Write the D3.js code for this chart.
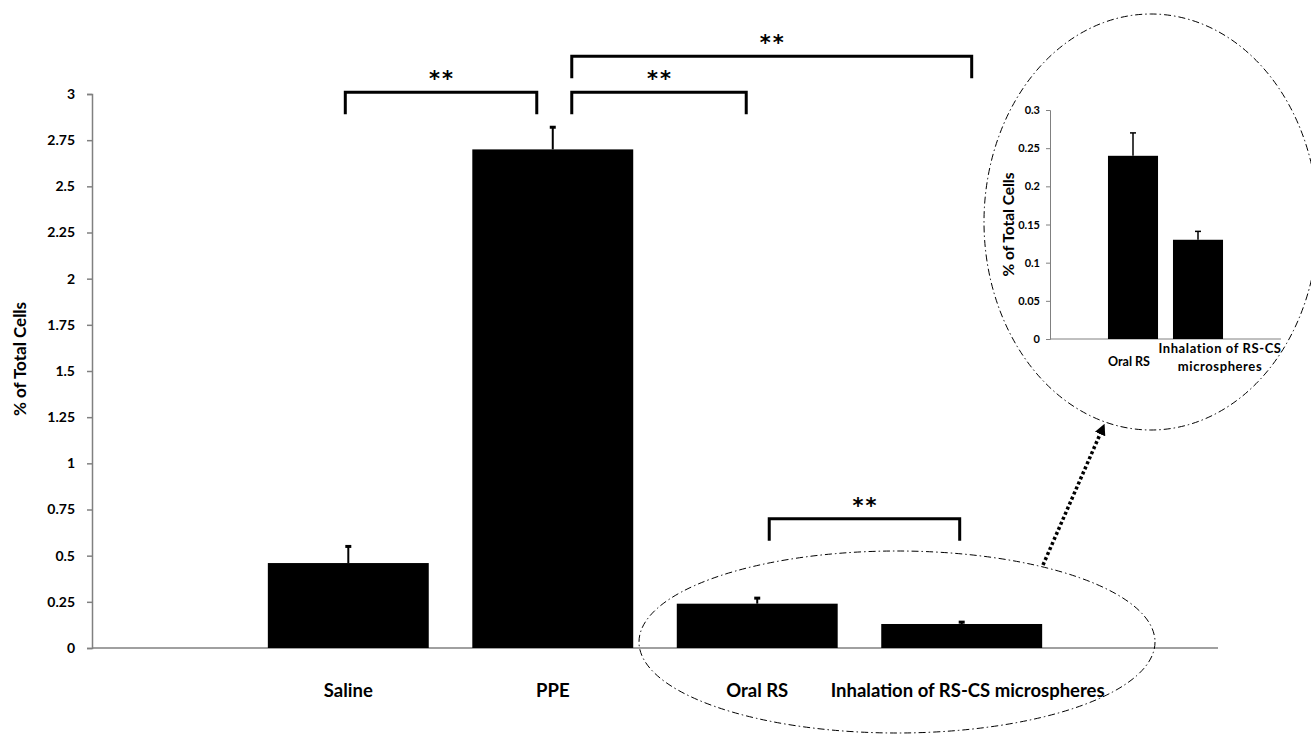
<!DOCTYPE html>
<html>
<head>
<meta charset="utf-8">
<script src="https://cdn.jsdelivr.net/npm/d3@7"></script>
<style>
  body { margin: 0; background: #fff; }
  text { font-family: Lato, "Open Sans", sans-serif; font-weight: bold; fill: #000; }
</style>
</head>
<body>
<svg id="chart" width="1311" height="735"></svg>
<script>
// ---- data ----
const categories = ["Saline", "PPE", "Oral RS", "Inhalation of RS-CS microspheres"];
const means = [0.46, 2.70, 0.24, 0.13];
const errors = [0.09, 0.12, 0.03, 0.01];
const yTicks = [0, 0.25, 0.5, 0.75, 1, 1.25, 1.5, 1.75, 2, 2.25, 2.5, 2.75, 3];

// inset (zoom of the two treatment groups)
const insetCategories = ["Oral RS", "Inhalation of RS-CS microspheres"];
const insetMeans = [0.24, 0.13];
const insetErrors = [0.03, 0.011];
const insetTicks = [0, 0.05, 0.1, 0.15, 0.2, 0.25, 0.3];

// significance brackets: from category, to category, level (in y units)
const brackets = [
    {from: "Saline", to: "PPE", level: 3.01, dx1: -3, dx2: -16},
    {from: "PPE", to: "Oral RS", level: 3.01, dx1: 19, dx2: -11},
    {from: "PPE", to: "Inhalation of RS-CS microspheres", level: 3.205, dx1: 19, dx2: 10},
    {from: "Oral RS", to: "Inhalation of RS-CS microspheres", level: 0.70, dx1: 12, dx2: -2}
];

const svg = d3.select("#chart");
const fmt = d => String(+d.toFixed(2));

// ---- main chart ----
const x = d3.scaleBand()
    .domain(categories)
    .range([92, 1218])
    .paddingInner(0.213)
    .paddingOuter(0.86);

const y = d3.scaleLinear()
    .domain([0, 3])
    .range([648, 94]);

// y axis
const yAxis = svg.append("g")
    .attr("transform", "translate(92,0)")
    .call(d3.axisLeft(y).tickValues(yTicks).tickFormat(fmt).tickSize(5).tickPadding(12));
yAxis.select(".domain").attr("stroke", "#808080").attr("stroke-width", 1.5);
yAxis.selectAll(".tick line").attr("stroke", "#808080").attr("stroke-width", 1.5);
yAxis.selectAll(".tick text").attr("font-size", 14);

// x axis line
svg.append("line")
    .attr("x1", 92).attr("x2", 1218)
    .attr("y1", y(0)).attr("y2", y(0))
    .attr("stroke", "#808080").attr("stroke-width", 1.5);

// y title
svg.append("text")
    .attr("transform", `translate(26,${(y(0) + y(3)) / 2 - 12}) rotate(-90)`)
    .attr("text-anchor", "middle")
    .attr("font-size", 17)
    .text("% of Total Cells");

// bars
svg.append("g").selectAll("rect")
    .data(categories)
    .enter()
    .append("rect")
    .attr("x", d => x(d))
    .attr("width", x.bandwidth())
    .attr("y", (d, i) => y(means[i]))
    .attr("height", (d, i) => y(0) - y(means[i]))
    .attr("fill", "#000");

// error bars (upper only)
const eb = svg.append("g").attr("stroke", "#000").attr("stroke-width", 2);
categories.forEach((c, i) => {
    const cx = x(c) + x.bandwidth() / 2;
    eb.append("line").attr("x1", cx).attr("x2", cx)
        .attr("y1", y(means[i])).attr("y2", y(means[i] + errors[i]));
    eb.append("line").attr("x1", cx - 3).attr("x2", cx + 3)
        .attr("y1", y(means[i] + errors[i])).attr("y2", y(means[i] + errors[i]))
        .attr("stroke-width", 3);
});

// x labels
svg.append("g").selectAll("text")
    .data(categories)
    .enter()
    .append("text")
    .attr("x", d => x(d) + x.bandwidth() / 2 + (d.length > 20 ? 6 : 0))
    .attr("y", 697)
    .attr("text-anchor", "middle")
    .attr("font-size", 18.5)
    .text(d => d);

// significance brackets
brackets.forEach(b => {
    const x1 = x(b.from) + x.bandwidth() / 2 + b.dx1;
    const x2 = x(b.to) + x.bandwidth() / 2 + b.dx2;
    const yt = y(b.level);
    svg.append("path")
        .attr("d", `M${x1},${yt + 22}V${yt}H${x2}V${yt + 22}`)
        .attr("fill", "none")
        .attr("stroke", "#000")
        .attr("stroke-width", 3);
    svg.append("text")
        .attr("x", (x1 + x2) / 2 + 1)
        .attr("y", yt - 6)
        .attr("text-anchor", "middle")
        .attr("letter-spacing", 2)
        .style("font-family", "'DejaVu Sans', sans-serif")
        .style("font-size", "21px")
        .text("**");
});

// dash-dot ellipses
svg.append("ellipse")
    .attr("cx", 897).attr("cy", 642).attr("rx", 258).attr("ry", 91)
    .attr("fill", "none").attr("stroke", "#000").attr("stroke-width", 1)
    .attr("stroke-dasharray", "7,3,1.5,3");
svg.append("ellipse")
    .attr("cx", 1151).attr("cy", 222).attr("rx", 167).attr("ry", 208)
    .attr("fill", "none").attr("stroke", "#000").attr("stroke-width", 1)
    .attr("stroke-dasharray", "7,3,1.5,3");

// dotted arrow
svg.append("defs").append("marker")
    .attr("id", "head")
    .attr("viewBox", "0 0 10 10")
    .attr("refX", 2).attr("refY", 5)
    .attr("markerWidth", 3.2).attr("markerHeight", 3.2)
    .attr("orient", "auto")
    .append("path").attr("d", "M0,0L10,5L0,10Z").attr("fill", "#000");
svg.append("line")
    .attr("x1", 1043).attr("y1", 565).attr("x2", 1101).attr("y2", 432)
    .attr("stroke", "#000").attr("stroke-width", 3.5)
    .attr("stroke-dasharray", "3,2.5")
    .attr("marker-end", "url(#head)");

// ---- inset ----
const xi = d3.scaleBand()
    .domain(insetCategories)
    .range([1050, 1281])
    .paddingInner(0.23)
    .paddingOuter(0.892);

const yi = d3.scaleLinear()
    .domain([0, 0.3])
    .range([339, 110]);

const yiAxis = svg.append("g")
    .attr("transform", "translate(1050,0)")
    .call(d3.axisLeft(yi).tickValues(insetTicks).tickFormat(fmt).tickSize(4).tickPadding(6));
yiAxis.select(".domain").attr("stroke", "#808080").attr("stroke-width", 1);
yiAxis.selectAll(".tick line").attr("stroke", "#808080");
yiAxis.selectAll(".tick text").attr("font-size", 11);

svg.append("line")
    .attr("x1", 1050).attr("x2", 1281)
    .attr("y1", yi(0)).attr("y2", yi(0))
    .attr("stroke", "#808080").attr("stroke-width", 1);

svg.append("text")
    .attr("transform", `translate(1014,${(yi(0) + yi(0.3)) / 2}) rotate(-90)`)
    .attr("text-anchor", "middle")
    .attr("font-size", 15.5)
    .text("% of Total Cells");

svg.append("g").selectAll("rect")
    .data(insetCategories)
    .enter()
    .append("rect")
    .attr("x", d => xi(d))
    .attr("width", xi.bandwidth())
    .attr("y", (d, i) => yi(insetMeans[i]))
    .attr("height", (d, i) => yi(0) - yi(insetMeans[i]))
    .attr("fill", "#000");

const ebi = svg.append("g").attr("stroke", "#000").attr("stroke-width", 1.5);
insetCategories.forEach((c, i) => {
    const cx = xi(c) + xi.bandwidth() / 2;
    ebi.append("line").attr("x1", cx).attr("x2", cx)
        .attr("y1", yi(insetMeans[i])).attr("y2", yi(insetMeans[i] + insetErrors[i]));
    ebi.append("line").attr("x1", cx - 3).attr("x2", cx + 3)
        .attr("y1", yi(insetMeans[i] + insetErrors[i])).attr("y2", yi(insetMeans[i] + insetErrors[i]));
});

// inset labels (second one wrapped in two lines)
svg.append("text")
    .attr("x", xi("Oral RS") + xi.bandwidth() / 2 - 4)
    .attr("y", 366)
    .attr("text-anchor", "middle")
    .attr("font-size", 12.5)
    .text("Oral RS");
const wrapped = svg.append("text")
    .attr("text-anchor", "middle")
    .attr("font-size", 13)
    .attr("letter-spacing", 0.6);
wrapped.append("tspan")
    .attr("x", xi(insetCategories[1]) + xi.bandwidth() / 2 + 22).attr("y", 353)
    .text("Inhalation of RS-CS");
wrapped.append("tspan")
    .attr("x", xi(insetCategories[1]) + xi.bandwidth() / 2 + 22).attr("y", 371)
    .text("microspheres");
</script>
</body>
</html>
